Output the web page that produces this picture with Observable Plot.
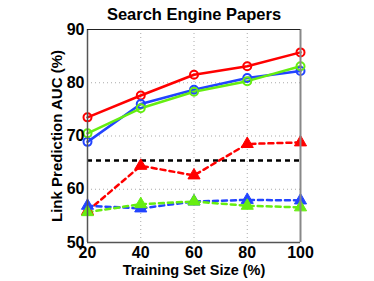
<!DOCTYPE html>
<html><head><meta charset="utf-8">
<script src="https://cdn.jsdelivr.net/npm/d3@7"></script>
<script src="https://cdn.jsdelivr.net/npm/@observablehq/plot@0.6"></script>
<style>body{margin:0;background:#fff}</style>
</head><body><div id="chart"></div>
<script>
const trainingSizes = [20, 40, 60, 80, 100];
const redSolid   = [73.5, 77.6, 81.5, 83.1, 85.7];
const blueSolid  = [68.9, 76.0, 78.7, 80.9, 82.2];
const greenSolid = [70.5, 75.2, 78.3, 80.3, 83.1];
const redDashed   = [55.9, 64.4, 62.6, 68.5, 68.8];
const blueDashed  = [56.9, 56.4, 57.7, 58.0, 57.9];
const greenDashed = [55.7, 57.2, 57.7, 56.9, 56.6];
const baseline = 65.4;
const xTicks = [20, 40, 60, 80, 100];
const yTicks = [50, 60, 70, 80, 90];

const series = [
  {name: "redSolid", vals: redSolid, color: "#ff0000", dash: null, sym: "circle"},
  {name: "blueSolid", vals: blueSolid, color: "#2244ff", dash: null, sym: "circle"},
  {name: "greenSolid", vals: greenSolid, color: "#66ee11", dash: null, sym: "circle"},
  {name: "redDashed", vals: redDashed, color: "#ff0000", dash: "5,4", sym: "triangle"},
  {name: "blueDashed", vals: blueDashed, color: "#2244ff", dash: "5,4", sym: "triangle"},
  {name: "greenDashed", vals: greenDashed, color: "#66ee11", dash: "5,4", sym: "triangle"}
];
const rows = s => trainingSizes.map((x, i) => ({x, y: s.vals[i]}));
const font = "'Liberation Sans', Arial, sans-serif";

const marks = [
  Plot.gridX(xTicks, {stroke: "#aaa", strokeOpacity: 1, strokeDasharray: "1,3", strokeWidth: 1}),
  Plot.gridY(yTicks, {stroke: "#aaa", strokeOpacity: 1, strokeDasharray: "1,3", strokeWidth: 1}),
  Plot.ruleY([baseline], {stroke: "#000", strokeWidth: 2.5, strokeDasharray: "5,4"})
];
for (const s of series) {
  marks.push(Plot.line(rows(s), {x: "x", y: "y", stroke: s.color, strokeWidth: 2.5, strokeDasharray: s.dash}));
}
for (const s of series) {
  if (s.sym === "circle") {
    marks.push(Plot.dot(rows(s), {x: "x", y: "y", r: 4, stroke: s.color, strokeWidth: 2, fill: "none"}));
  } else {
    marks.push(Plot.dot(rows(s), {x: "x", y: "y", r: 4.5, symbol: "triangle", fill: s.color, stroke: s.color, strokeWidth: 1}));
  }
}
marks.push(
  Plot.ruleX([20], {stroke: "#555", strokeWidth: 1.5}),
  Plot.ruleY([50], {stroke: "#555", strokeWidth: 1.5}),
  Plot.ruleX([100], {stroke: "#888", strokeWidth: 2}),
  Plot.ruleY([90], {stroke: "#222", strokeWidth: 1}),
  Plot.axisX(xTicks, {tickSize: 0, tickPadding: 4, fontSize: 16, fontWeight: "bold", fill: "#000", label: null}),
  Plot.axisY(yTicks, {tickSize: 0, tickPadding: 3, fontSize: 16, fontWeight: "bold", fill: "#000", label: null}),
  Plot.text(["Search Engine Papers"], {frameAnchor: "top", dy: -21, fontSize: 16.5, fontWeight: "bold", fill: "#000"}),
  Plot.text(["Training Set Size (%)"], {frameAnchor: "bottom", dy: 32, fontSize: 14.5, fontWeight: "bold", fill: "#000"}),
  Plot.text(["Link Prediction AUC (%)"], {frameAnchor: "left", textAnchor: "middle", dx: -30, rotate: -90, fontSize: 15, fontWeight: "bold", fill: "#000"})
);

const chart = Plot.plot({
  width: 374, height: 281,
  marginLeft: 87, marginRight: 74, marginTop: 29, marginBottom: 39,
  style: {fontFamily: font, background: "#fff", overflow: "visible"},
  x: {domain: [20, 100]},
  y: {domain: [50, 90]},
  marks
});
document.getElementById("chart").appendChild(chart);
</script>
</body></html>
